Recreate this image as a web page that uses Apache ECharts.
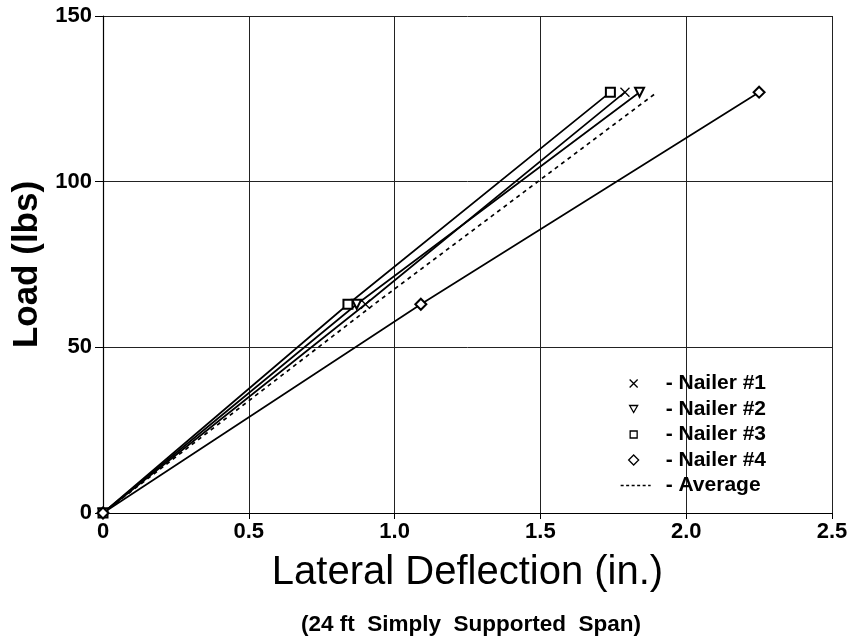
<!DOCTYPE html>
<html>
<head>
<meta charset="utf-8">
<script src="https://cdn.jsdelivr.net/npm/echarts@6/dist/echarts.min.js"></script>
<style>
  html, body { margin: 0; padding: 0; background: #fff; }
  #chart { width: 858px; height: 641px; }
</style>
</head>
<body>
<div id="chart"></div>
<script>
// 数据
const loads = [0, 63, 127];
const nailer1 = [0, 0.90, 1.79];
const nailer2 = [0, 0.87, 1.84];
const nailer3 = [0, 0.84, 1.74];
const nailer4 = [0, 1.09, 2.25];
const average = [0, 0.93, 1.90];
const seriesNames = ['Nailer #1', 'Nailer #2', 'Nailer #3', 'Nailer #4', 'Average'];
const xTickLabels = ['0', '0.5', '1.0', '1.5', '2.0', '2.5'];
const yTickLabels = ['0', '50', '100', '150'];

const font = 'Liberation Sans, Arial, sans-serif';

// 把x值和荷载配成点
function pairs(xs) {
  return xs.map(function (x, i) { return [x, loads[i]]; });
}

// 图例图标 (44x14)
const box = 'M0,0M44,14';
const legendIcons = [
  'path://' + box + 'M13,3L21,11M21,3L13,11',
  'path://' + box + 'M13,3.5L21,3.5L17,10.5Z',
  'path://' + box + 'M13.5,3.5L20.5,3.5L20.5,10.5L13.5,10.5Z',
  'path://' + box + 'M17,2L22,7L17,12L12,7Z',
  'path://' + box + 'M4,7L7,7M9.5,7L12.5,7M15,7L18,7M20.5,7L23.5,7M26,7L29,7M31.5,7L34,7'
];

function line(name, xs, symbol, size, rotate, dashed) {
  return {
    name: name,
    type: 'line',
    data: pairs(xs),
    symbol: symbol,
    symbolSize: size,
    symbolRotate: rotate || 0,
    showSymbol: symbol !== 'none',
    lineStyle: { color: '#000', width: 1.7, type: dashed ? [4, 4] : 'solid' },
    itemStyle: { color: '#000', borderColor: '#000', borderWidth: 1.3 },
    animation: false,
    z: 3
  };
}

var myChart = echarts.init(document.getElementById('chart'), null, { renderer: 'canvas' });

var option = {
  backgroundColor: '#fff',
  animation: false,
  grid: { left: 103, right: 26, top: 16, bottom: 128 },
  xAxis: {
    type: 'value',
    min: 0, max: 2.5, interval: 0.5,
    name: 'Lateral Deflection (in.)',
    nameLocation: 'middle',
    nameGap: 40,
    nameTextStyle: { fontFamily: font, fontSize: 40, color: '#000' },
    axisLine: { show: true, lineStyle: { color: '#000', width: 1.2 } },
    axisTick: { show: true, length: 6, lineStyle: { color: '#000' } },
    axisLabel: {
      margin: 8,
      fontFamily: font, fontSize: 22, fontWeight: 'bold', color: '#000',
      formatter: function (v, i) { return xTickLabels[i]; }
    },
    splitLine: { show: true, lineStyle: { color: '#222', width: 1 } }
  },
  yAxis: {
    type: 'value',
    min: 0, max: 150, interval: 50,
    name: 'Load (lbs)',
    nameLocation: 'middle',
    nameGap: 58,
    nameTextStyle: { fontFamily: font, fontSize: 35, fontWeight: 'bold', color: '#000' },
    axisLine: { show: true, lineStyle: { color: '#000', width: 1.2 } },
    axisTick: { show: true, length: 8, lineStyle: { color: '#000' } },
    axisLabel: {
      margin: 11,
      fontFamily: font, fontSize: 22, fontWeight: 'bold', color: '#000',
      formatter: function (v, i) { return yTickLabels[i]; }
    },
    splitLine: { show: true, lineStyle: { color: '#222', width: 1 } }
  },
  legend: {
    orient: 'vertical',
    left: 616,
    top: 373,
    padding: 0,
    itemWidth: 44,
    itemHeight: 14,
    itemGap: 4.5,
    formatter: '- {name}',
    textStyle: { fontFamily: font, fontSize: 21, fontWeight: 'bold', color: '#000' },
    data: seriesNames.map(function (n, i) {
      return {
        name: n,
        icon: legendIcons[i],
        itemStyle: { color: 'rgba(0,0,0,0)', borderColor: '#000', borderWidth: 1.3 }
      };
    })
  },
  graphic: [{
    type: 'text',
    x: 471, y: 625,
    style: {
      text: '(24 ft  Simply  Supported  Span)',
      font: 'bold 22.5px ' + font,
      fill: '#000',
      textAlign: 'center',
      textVerticalAlign: 'middle'
    }
  }],
  series: [
    line(seriesNames[0], nailer1, 'path://M0,0L10,10M10,0L0,10', 9),
    line(seriesNames[1], nailer2, 'emptyTriangle', 9, 180),
    line(seriesNames[2], nailer3, 'emptyRect', 9),
    line(seriesNames[3], nailer4, 'emptyDiamond', 11),
    line(seriesNames[4], average, 'none', 0, 0, true)
  ]
};

myChart.setOption(option);
</script>
</body>
</html>
